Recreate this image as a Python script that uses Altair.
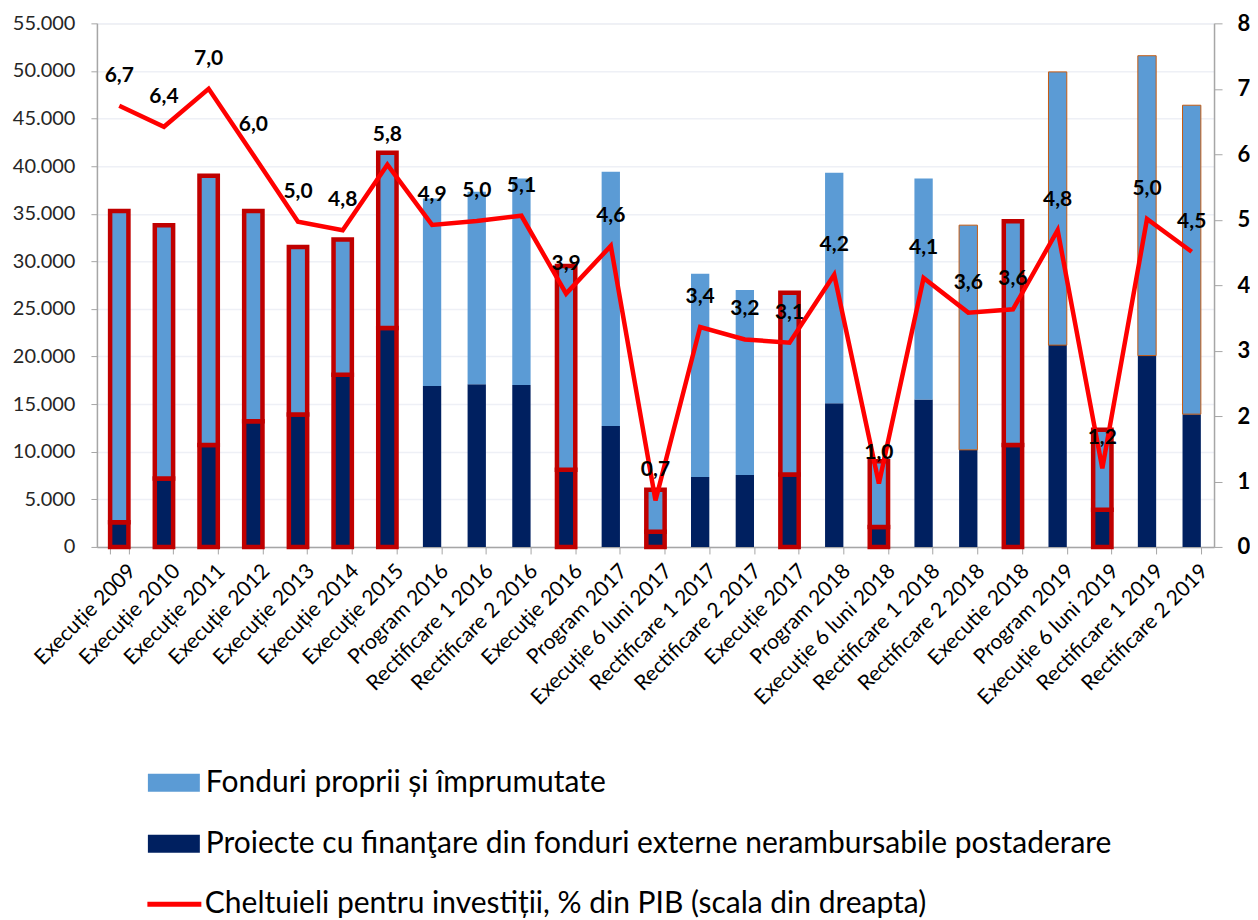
import altair as alt
import pandas as pd

categories = [
    "Execuție 2009", "Execuție 2010", "Execuție 2011", "Execuție 2012", "Execuție 2013",
    "Execuție 2014", "Execuție 2015", "Program 2016", "Rectificare 1 2016", "Rectificare 2 2016",
    "Execuţie 2016", "Program 2017", "Execuție 6 luni 2017", "Rectificare 1 2017", "Rectificare 2 2017",
    "Execuție 2017", "Program 2018", "Execuție 6 luni 2018", "Rectificare 1 2018", "Rectificare 2 2018",
    "Executie 2018", "Program 2019", "Execuție 6 luni 2019", "Rectificare 1 2019", "Rectificare 2 2019",
]

# Proiecte cu finanţare din fonduri externe nerambursabile postaderare (mil. lei)
external = [2600, 7200, 10700, 13200, 13900, 18100, 23000, 16900, 17100, 17000,
            8100, 12700, 1600, 7350, 7550, 7600, 15100, 2100, 15500, 10200,
            10700, 21200, 3900, 20100, 13950]
# total height of each bar (mil. lei)
total = [35300, 33800, 39000, 35300, 31500, 32300, 41400, 36600, 37300, 38700,
         29500, 39400, 6000, 28700, 27000, 26700, 39300, 9000, 38700, 33800,
         34200, 49900, 12300, 51600, 46400]
# Cheltuieli pentru investiții, % din PIB
pct = [6.74, 6.42, 7.00, 5.99, 4.97, 4.84, 5.84, 4.92, 4.98, 5.06,
       3.87, 4.60, 0.71, 3.36, 3.17, 3.12, 4.16, 0.97, 4.11, 3.58,
       3.63, 4.84, 1.20, 5.01, 4.51]

thin_outline = ["Rectificare 2 2018", "Program 2019", "Rectificare 1 2019", "Rectificare 2 2019"]

S_OWN = "Fonduri proprii și împrumutate"
S_EXT = "Proiecte cu finanţare din fonduri externe nerambursabile postaderare"
S_PCT = "Cheltuieli pentru investiții, % din PIB (scala din dreapta)"

rows = []
for c, e, t in zip(categories, external, total):
    execu = c.startswith("Execu")
    rows.append(dict(cat=c, series=S_EXT, value=e, ord=0, execu=execu, thin=False))
    rows.append(dict(cat=c, series=S_OWN, value=t - e, ord=1, execu=execu, thin=c in thin_outline))
bar_df = pd.DataFrame(rows)

line_df = pd.DataFrame(dict(cat=categories, pct=pct, series=S_PCT,
                            lbl=[f"{v:.1f}".replace(".", ",") for v in pct]))

FONT = "Lato"
AXIS_GREY = "#A6A6A6"

x_enc = alt.X("cat:N", sort=categories, scale=alt.Scale(paddingInner=0.59, paddingOuter=0.295),
              axis=alt.Axis(title=None, labelAngle=-45, labelFontSize=21, labelColor="black",
                            labelFont=FONT, labelLimit=400, tickBand="extent", tickSize=7,
                            tickColor=AXIS_GREY, domainColor=AXIS_GREY, domainWidth=1.5,
                            labelPadding=6, labelOffset=5, grid=False))

rect_path = "M-1,-0.346H1V0.346H-1Z"

bar_legend = alt.Legend(
    title=None, orient="none", legendX=51, legendY=734, direction="vertical",
    labelFont=FONT, labelFontSize=30, labelColor="black", labelLimit=1200,
    symbolType=rect_path, symbolSize=2704, symbolStrokeWidth=0, symbolOpacity=1,
    labelOffset=6, rowPadding=20, padding=0,
)
line_legend = alt.Legend(
    title=None, orient="none", legendX=48, legendY=852, direction="vertical",
    labelFont=FONT, labelFontSize=30, labelColor="black", labelLimit=1200,
    symbolType="stroke", symbolSize=2916, symbolStrokeWidth=5, symbolOpacity=1,
    labelOffset=1, padding=0,
)

right_axis = alt.Axis(title=None, orient="right", values=list(range(0, 9)), format="d",
                      grid=False, tickSize=8, tickColor=AXIS_GREY, domainColor=AXIS_GREY,
                      domainWidth=1.5, labelFontSize=22, labelFontWeight="bold",
                      labelColor="black", labelFont=FONT, labelPadding=15)
right_scale = alt.Scale(domain=[0, 8], nice=False)

bars = alt.Chart(bar_df).mark_bar().encode(
    x=x_enc,
    y=alt.Y("value:Q", stack="zero", scale=alt.Scale(domain=[0, 55000], nice=False),
            axis=alt.Axis(title=None, values=list(range(0, 55001, 5000)),
                          labelExpr="replace(format(datum.value, ',d'), ',', '.')",
                          grid=True, gridColor="#EEF0F6", gridWidth=1.5, tickSize=6,
                          tickColor=AXIS_GREY, domainColor=AXIS_GREY, domainWidth=1.5,
                          labelFontSize=20, labelColor="#262626", labelFont=FONT, labelPadding=16)),
    color=alt.Color("series:N", scale=alt.Scale(domain=[S_OWN, S_EXT],
                                                range=["#5B9BD5", "#002060"]),
                    legend=bar_legend),
    order=alt.Order("ord:Q"),
    stroke=alt.StrokeValue(value="transparent", condition=[
        {"test": "datum.execu", "value": "#C00000"},
        {"test": "datum.thin", "value": "#C55A11"},
    ]),
    strokeWidth=alt.StrokeWidthValue(value=1, condition=[
        {"test": "datum.execu", "value": 4.5},
    ]),
)

line = alt.Chart(line_df).mark_line(strokeWidth=4.5).encode(
    x=alt.X("cat:N", sort=categories),
    y=alt.Y("pct:Q", scale=right_scale, axis=right_axis),
    stroke=alt.Stroke("series:N", scale=alt.Scale(domain=[S_PCT], range=["#FF0000"]),
                      legend=line_legend),
)
labels = alt.Chart(line_df).mark_text(dy=-30, fontWeight="bold", fontSize=21, color="black",
                                      font=FONT).encode(
    x=alt.X("cat:N", sort=categories),
    y=alt.Y("pct:Q", scale=right_scale, axis=right_axis),
    text="lbl:N",
)

right = alt.layer(line, labels)

chart = alt.layer(bars, right).resolve_scale(y="independent").properties(
    width=1118, height=524,
    padding={"left": 4, "top": 4, "right": 0, "bottom": 0},
).configure_view(stroke=None).configure(font=FONT)

chart.save("out.html", embed_options={"renderer": "svg", "actions": False})
